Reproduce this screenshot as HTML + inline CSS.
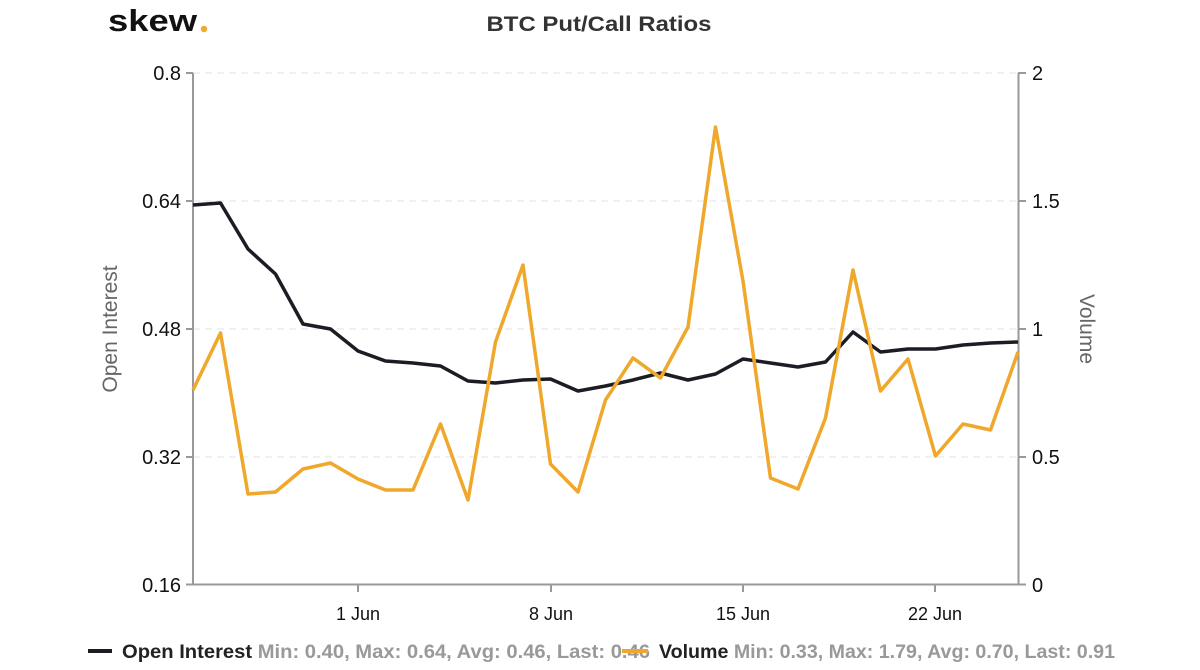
<!DOCTYPE html>
<html><head><meta charset="utf-8"><style>
html,body{margin:0;padding:0;background:#fff;}
svg{display:block;font-family:"Liberation Sans",sans-serif;}
</style></head><body>
<svg width="1200" height="670" viewBox="0 0 1200 670">
<text x="108" y="31" font-size="31" font-weight="bold" fill="#111" textLength="89" lengthAdjust="spacingAndGlyphs">skew</text>
<circle cx="204" cy="29" r="3.2" fill="#f0a92a"/>
<text x="599" y="31" font-size="21" font-weight="bold" fill="#333" text-anchor="middle" textLength="225" lengthAdjust="spacingAndGlyphs">BTC Put/Call Ratios</text>
<g stroke="#e3e3e3" stroke-dasharray="7,5" stroke-width="1">
<line x1="193" y1="73" x2="1018" y2="73"/>
<line x1="193" y1="201" x2="1018" y2="201"/>
<line x1="193" y1="329" x2="1018" y2="329"/>
<line x1="193" y1="457" x2="1018" y2="457"/>
</g>
<g stroke="#999" stroke-width="2" fill="none">
<line x1="193" y1="73" x2="193" y2="585"/>
<line x1="1018.5" y1="73" x2="1018.5" y2="585"/>
<line x1="186" y1="584.5" x2="1026" y2="584.5"/>
<line x1="186" y1="73" x2="193" y2="73"/><line x1="186" y1="201" x2="193" y2="201"/><line x1="186" y1="329" x2="193" y2="329"/><line x1="186" y1="457" x2="193" y2="457"/>
<line x1="1018" y1="73" x2="1026" y2="73"/><line x1="1018" y1="201" x2="1026" y2="201"/><line x1="1018" y1="329" x2="1026" y2="329"/><line x1="1018" y1="457" x2="1026" y2="457"/>
<line x1="358" y1="585" x2="358" y2="592"/><line x1="551" y1="585" x2="551" y2="592"/><line x1="743" y1="585" x2="743" y2="592"/><line x1="935" y1="585" x2="935" y2="592"/>
</g>
<g font-size="20" fill="#111" text-anchor="end">
<text x="181" y="80">0.8</text><text x="181" y="208">0.64</text><text x="181" y="336">0.48</text><text x="181" y="464">0.32</text><text x="181" y="592">0.16</text>
</g>
<g font-size="20" fill="#111">
<text x="1032" y="80">2</text><text x="1032" y="208">1.5</text><text x="1032" y="336">1</text><text x="1032" y="464">0.5</text><text x="1032" y="592">0</text>
</g>
<g font-size="18" fill="#111" text-anchor="middle">
<text x="358" y="620">1 Jun</text><text x="551" y="620">8 Jun</text><text x="743" y="620">15 Jun</text><text x="935" y="620">22 Jun</text>
</g>
<text transform="translate(117,329) rotate(-90)" font-size="21" fill="#666" text-anchor="middle">Open Interest</text>
<text transform="translate(1080,329) rotate(90)" font-size="21" fill="#666" text-anchor="middle">Volume</text>
<polyline fill="none" stroke="#1c1c24" stroke-width="3.5" stroke-linejoin="round" points="193,205 220.5,203 248,249 275.5,274 303,324 330.5,329 358,351 385.5,361 413,363 440.5,366 468,381 495.5,383 523,380 550.5,379 578,391 605.5,386 633,380 660.5,373 688,380 715.5,374 743,359 770.5,363 798,367 825.5,362 853,332 880.5,352 908,349 935.5,349 963,345 990.5,343 1018,342"/>
<polyline fill="none" stroke="#efa82b" stroke-width="3.5" stroke-linejoin="round" points="193,390 220.5,333 248,494 275.5,492 303,469 330.5,463 358,479 385.5,490 413,490 440.5,424 468,500 495.5,342 523,265 550.5,464 578,492 605.5,400 633,358 660.5,378 688,327 715.5,127 743,281 770.5,478 798,489 825.5,418 853,270 880.5,391 908,359 935.5,456 963,424 990.5,430 1018,352"/>
<line x1="88" y1="651" x2="112" y2="651" stroke="#1c1c24" stroke-width="4"/>
<text x="122" y="658" font-size="19" font-weight="bold" textLength="528" lengthAdjust="spacingAndGlyphs"><tspan fill="#222">Open Interest</tspan><tspan fill="#999"> Min: 0.40, Max: 0.64, Avg: 0.46, Last: 0.46</tspan></text>
<line x1="622" y1="651" x2="648" y2="651" stroke="#efa82b" stroke-width="4"/>
<text x="659" y="658" font-size="19" font-weight="bold" textLength="456" lengthAdjust="spacingAndGlyphs"><tspan fill="#222">Volume</tspan><tspan fill="#999"> Min: 0.33, Max: 1.79, Avg: 0.70, Last: 0.91</tspan></text>
</svg>
</body></html>
